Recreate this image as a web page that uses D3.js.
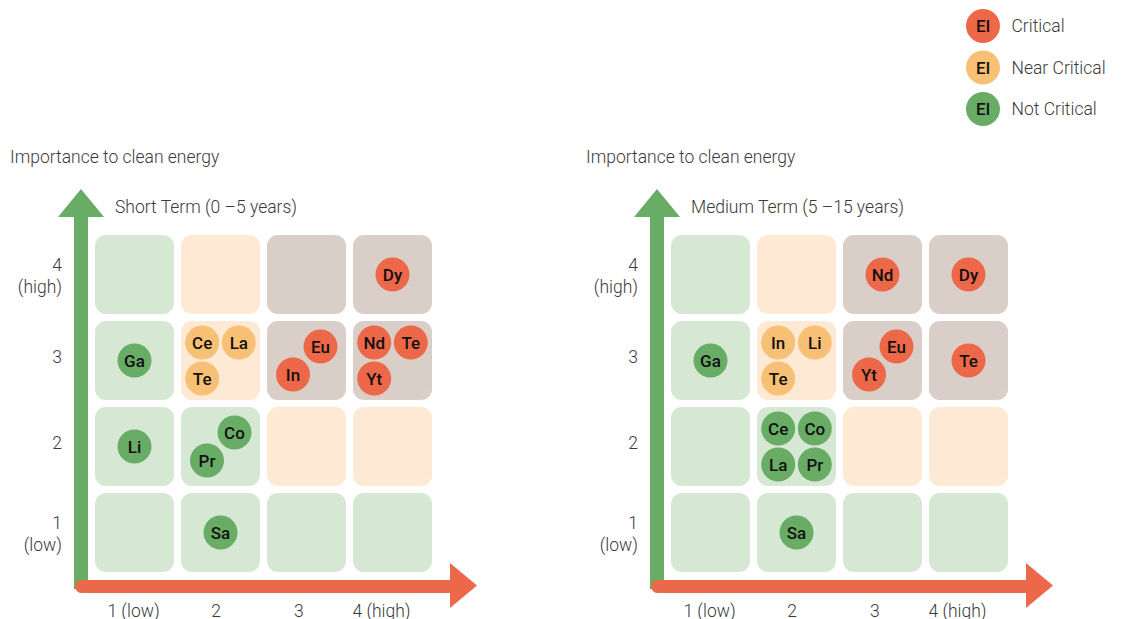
<!DOCTYPE html>
<html>
<head>
<meta charset="utf-8">
<script src="https://cdn.jsdelivr.net/npm/d3@7"></script>
<style>
  html, body { margin: 0; padding: 0; background: #fff; }
  svg { display: block; font-family: Roboto, "Noto Sans", sans-serif; }
</style>
</head>
<body>
<svg id="chart" width="1122" height="619"></svg>
<script>
// ---------- data ----------
const xLevels = [1, 2, 3, 4];
const yLevels = [4, 3, 2, 1];
const xTickLabels = ["1 (low)", "2", "3", "4 (high)"];
const yTickLabels = [["1", "(low)"], ["2"], ["3"], ["4", "(high)"]];
// status of each cell, row by row from y = 1 to y = 4, columns x = 1..4
const cellStatus = [
  ["not", "not", "not", "not"],
  ["not", "not", "near", "near"],
  ["not", "near", "crit", "crit"],
  ["not", "near", "crit", "crit"]
];
const statusKeys = ["crit", "near", "not"];
const statusLabels = ["Critical", "Near Critical", "Not Critical"];

const shortTermElements = [
  { el: "Dy", x: 4, y: 4, s: "crit" },
  { el: "Ga", x: 1, y: 3, s: "not" },
  { el: "Ce", x: 2, y: 3, s: "near" },
  { el: "La", x: 2, y: 3, s: "near" },
  { el: "Te", x: 2, y: 3, s: "near" },
  { el: "Eu", x: 3, y: 3, s: "crit" },
  { el: "In", x: 3, y: 3, s: "crit" },
  { el: "Nd", x: 4, y: 3, s: "crit" },
  { el: "Te", x: 4, y: 3, s: "crit" },
  { el: "Yt", x: 4, y: 3, s: "crit" },
  { el: "Li", x: 1, y: 2, s: "not" },
  { el: "Co", x: 2, y: 2, s: "not" },
  { el: "Pr", x: 2, y: 2, s: "not" },
  { el: "Sa", x: 2, y: 1, s: "not" }
];
const mediumTermElements = [
  { el: "Nd", x: 3, y: 4, s: "crit" },
  { el: "Dy", x: 4, y: 4, s: "crit" },
  { el: "Ga", x: 1, y: 3, s: "not" },
  { el: "In", x: 2, y: 3, s: "near" },
  { el: "Li", x: 2, y: 3, s: "near" },
  { el: "Te", x: 2, y: 3, s: "near" },
  { el: "Eu", x: 3, y: 3, s: "crit" },
  { el: "Yt", x: 3, y: 3, s: "crit" },
  { el: "Te", x: 4, y: 3, s: "crit" },
  { el: "Ce", x: 2, y: 2, s: "not" },
  { el: "Co", x: 2, y: 2, s: "not" },
  { el: "La", x: 2, y: 2, s: "not" },
  { el: "Pr", x: 2, y: 2, s: "not" },
  { el: "Sa", x: 2, y: 1, s: "not" }
];
const panelTitles = ["Short Term (0 –5 years)", "Medium Term (5 –15 years)"];
const yAxisTitle = "Importance to clean energy";

// ---------- styles ----------
const circleColour = { crit: "#ec6849", near: "#f8c075", not: "#68ac66" };
const cellColour = { crit: "#d9cec8", near: "#fde9d4", not: "#d6e7d4" };
const textColour = "#3a3a3a";
const FS = 17.5;
const FW = 300;

const svg = d3.select("#chart");

// legend
const legend = svg.append("g");
statusKeys.forEach((k, i) => {
  const g = legend.append("g").attr("transform", `translate(983,${26 + i * 41.5})`);
  g.append("circle").attr("r", 17).attr("fill", circleColour[k]);
  g.append("text").text("El").attr("text-anchor", "middle").attr("dy", "0.36em")
    .attr("font-size", 17).attr("font-weight", 500).attr("fill", "#111");
  g.append("text").text(statusLabels[i]).attr("x", 28.5).attr("dy", "0.36em")
    .attr("font-size", FS).attr("font-weight", FW).attr("fill", textColour);
});

function drawPanel(offsetX, title, elements) {
  const g = svg.append("g").attr("transform", `translate(${offsetX},0)`);

  const x = d3.scaleBand().domain(xLevels).range([95, 432]).paddingInner(0.0814);
  const y = d3.scaleBand().domain(yLevels).range([235, 572]).paddingInner(0.0814);

  // axis title and panel title
  g.append("text").text(yAxisTitle).attr("x", 10).attr("y", 163)
    .attr("font-size", FS).attr("font-weight", FW).attr("fill", textColour);
  g.append("text").text(title).attr("x", 115).attr("y", 213)
    .attr("font-size", FS).attr("font-weight", FW).attr("fill", textColour);

  // cells
  const cells = [];
  cellStatus.forEach((row, yi) => row.forEach((s, xi) => cells.push({ x: xi + 1, y: yi + 1, s })));
  g.selectAll("rect.cell").data(cells).join("rect").attr("class", "cell")
    .attr("x", d => x(d.x)).attr("y", d => y(d.y))
    .attr("width", x.bandwidth()).attr("height", y.bandwidth())
    .attr("rx", 11).attr("ry", 11)
    .attr("fill", d => cellColour[d.s]);

  // vertical green arrow
  g.append("rect").attr("x", 74).attr("y", 214).attr("width", 14).attr("height", 375)
    .attr("fill", circleColour.not);
  g.append("path").attr("d", "M58,217 L81,189 L104,217 Z").attr("fill", circleColour.not);
  // horizontal orange arrow
  g.append("rect").attr("x", 75).attr("y", 580).attr("width", 380).attr("height", 13)
    .attr("rx", 6.5).attr("fill", circleColour.crit);
  g.append("path").attr("d", "M450,563 L477,585.5 L450,608 Z").attr("fill", circleColour.crit);

  // y tick labels
  yTickLabels.forEach((lines, i) => {
    const cy = y(i + 1) + y.bandwidth() / 2;
    const t = g.append("text").attr("text-anchor", "end").attr("font-size", FS)
      .attr("font-weight", FW).attr("fill", textColour);
    if (lines.length === 1) {
      t.append("tspan").attr("x", 62).attr("y", cy + 2.5).text(lines[0]);
    } else {
      t.append("tspan").attr("x", 62).attr("y", cy - 3.5).text(lines[0]);
      t.append("tspan").attr("x", 62).attr("y", cy + 18.5).text(lines[1]);
    }
  });

  // x tick labels via axis
  const xl = d3.scalePoint().domain(xTickLabels).range([133, 381]);
  const ax = g.append("g").attr("transform", "translate(0,600)")
    .call(d3.axisBottom(xl).tickSize(0).tickPadding(0));
  ax.select(".domain").remove();
  ax.selectAll("text").attr("font-size", FS).attr("font-weight", FW).attr("fill", textColour)
    .attr("font-family", "Roboto, 'Noto Sans', sans-serif").attr("dy", "0.95em");

  // element circles
  const groups = d3.group(elements, d => d.x + "-" + d.y);
  const placed = [];
  groups.forEach(arr => {
    const n = arr.length;
    arr.forEach((d, i) => {
      let dx = 0, dy = 0;
      if (n === 2) { dx = i === 0 ? 14 : -13.5; dy = i === 0 ? -14 : 14; }
      else if (n >= 3) { dx = (i % 2 === 0 ? -18.3 : 18.3); dy = (i < 2 ? -18 : 18); }
      placed.push({ ...d, cx: x(d.x) + x.bandwidth() / 2 + dx, cy: y(d.y) + y.bandwidth() / 2 + dy });
    });
  });
  const eg = g.selectAll("g.el").data(placed).join("g").attr("class", "el")
    .attr("transform", d => `translate(${d.cx},${d.cy})`);
  eg.append("circle").attr("r", 17).attr("fill", d => circleColour[d.s]);
  eg.append("text").text(d => d.el).attr("text-anchor", "middle").attr("dy", "0.36em")
    .attr("font-size", 17).attr("font-weight", 500).attr("fill", "#111");
}

drawPanel(0, panelTitles[0], shortTermElements);
drawPanel(576, panelTitles[1], mediumTermElements);
</script>
</body>
</html>
